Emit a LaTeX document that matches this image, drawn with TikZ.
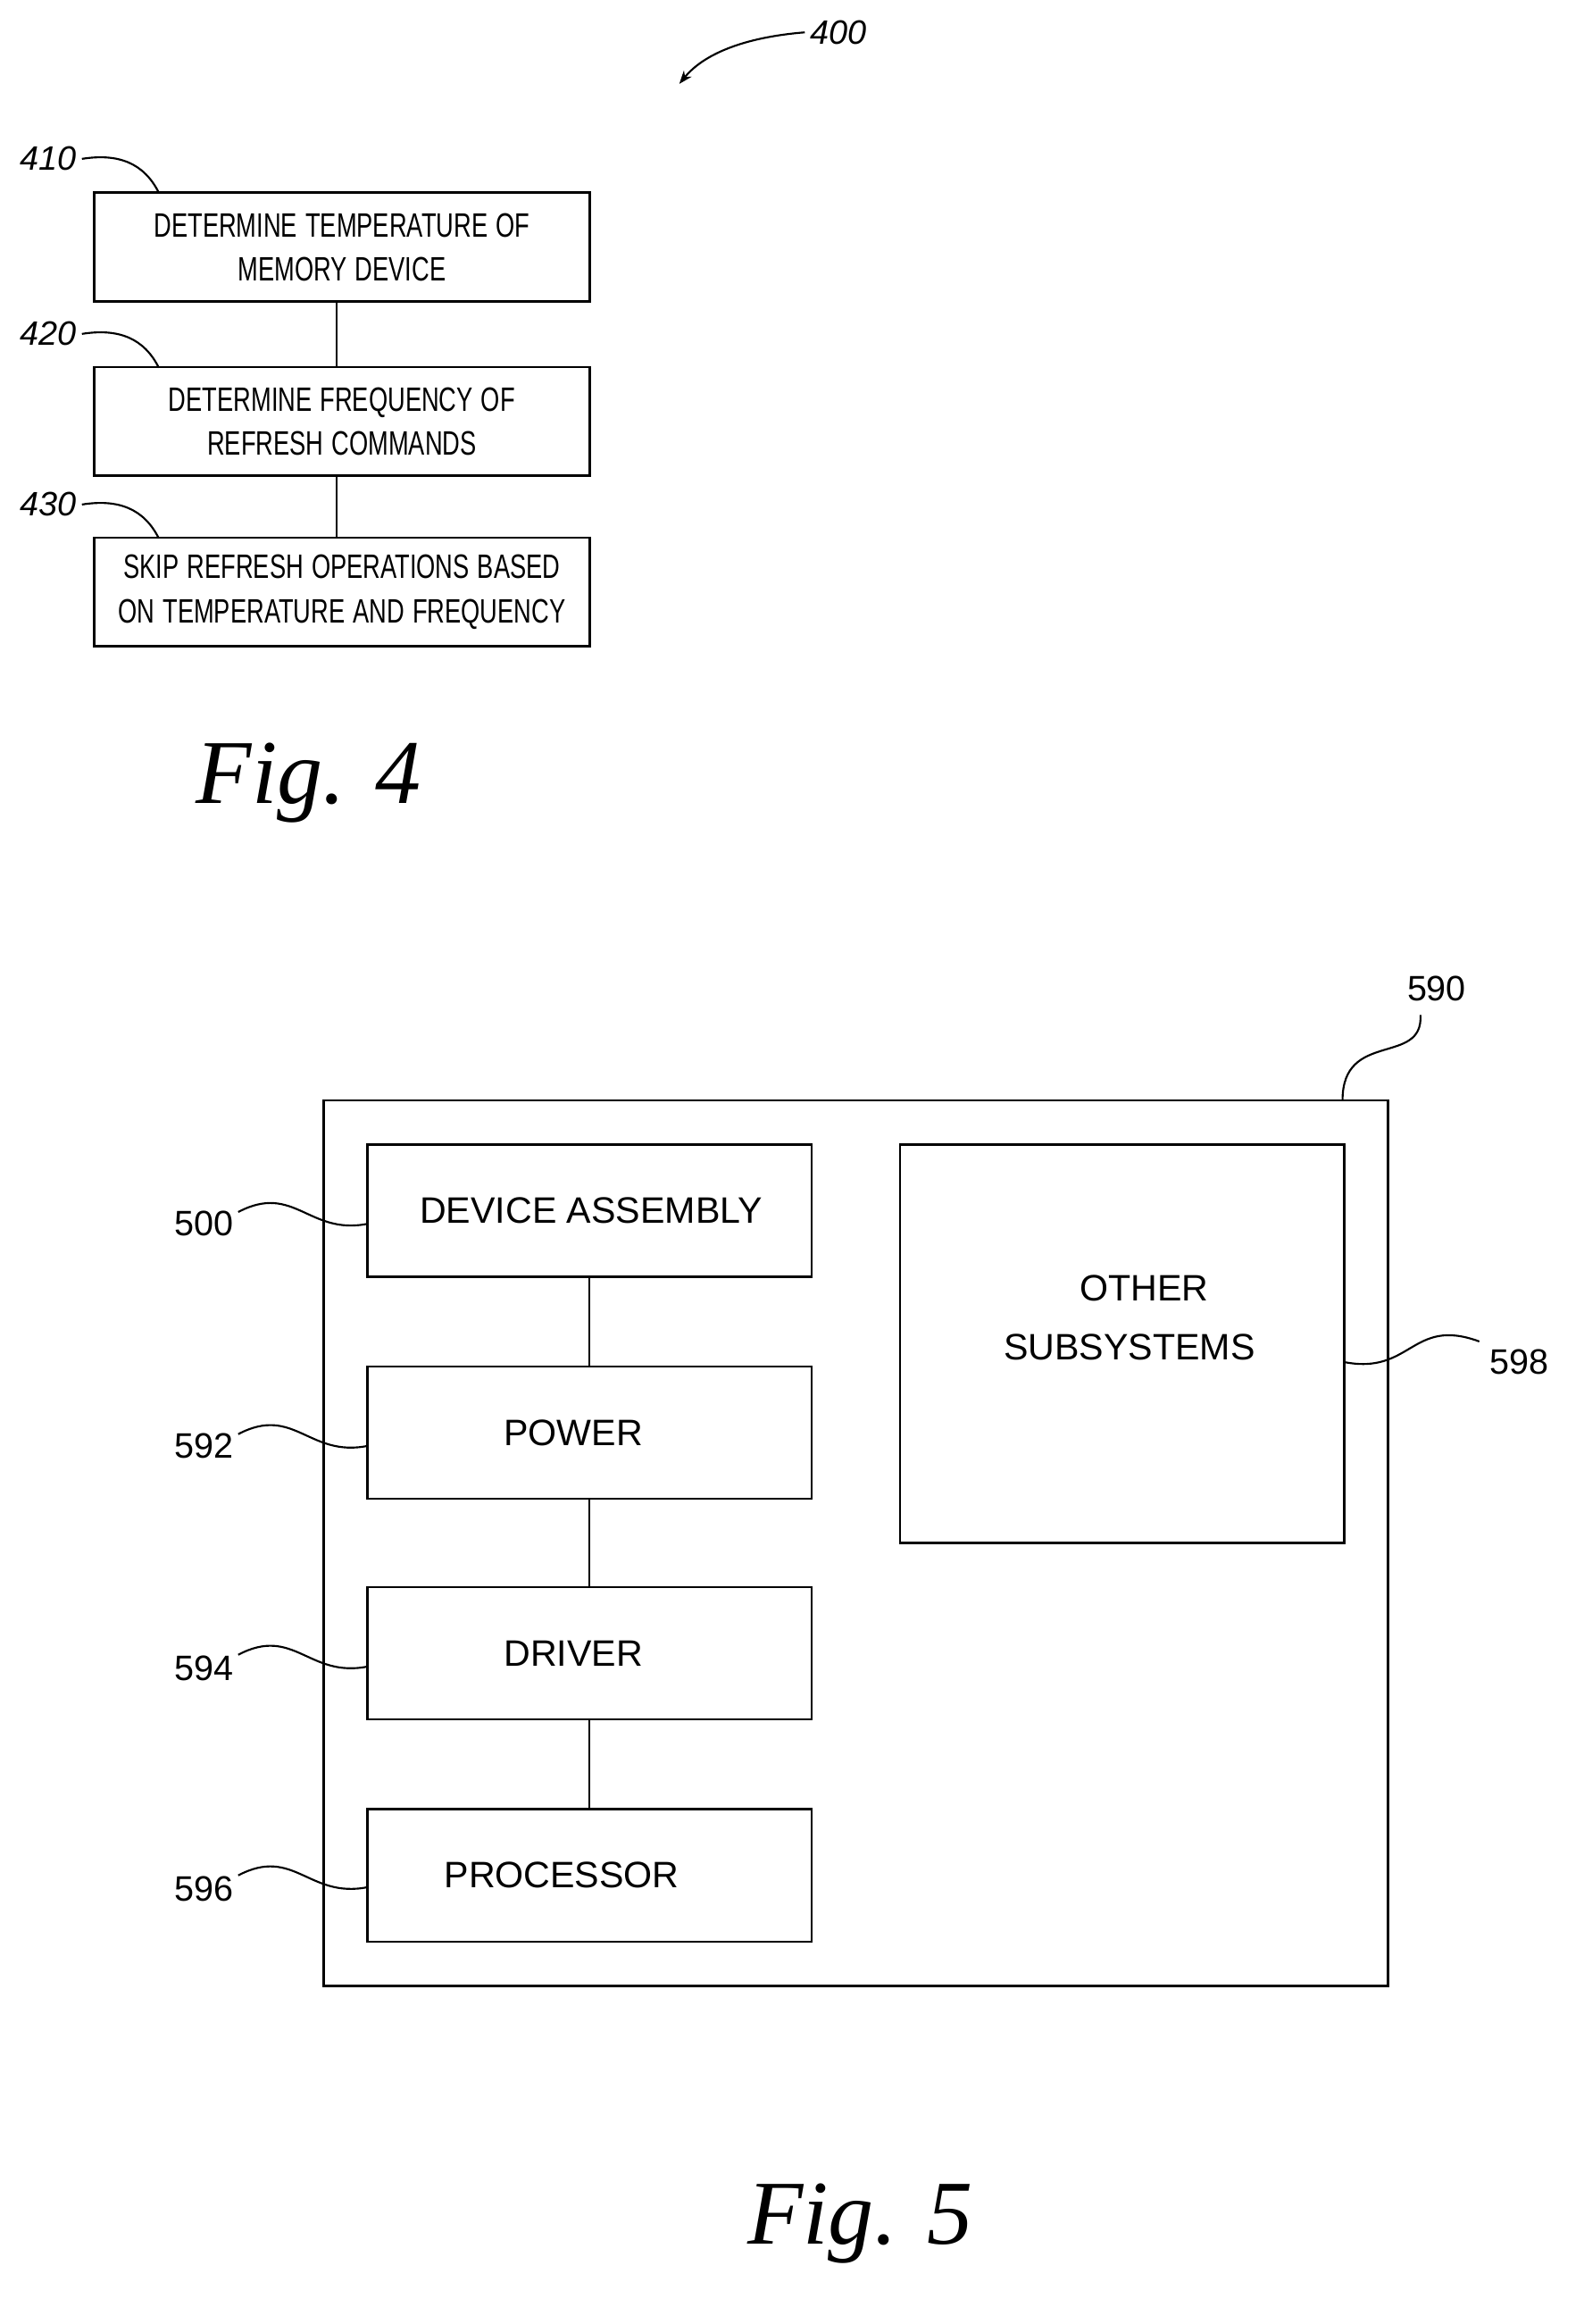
\documentclass[tikz,border=0pt]{standalone}
\usepackage{fontspec}
\setmainfont{Liberation Sans}
\newfontfamily\figfont{Liberation Serif}
\usetikzlibrary{arrows.meta}
\begin{document}
\begin{tikzpicture}[x=1pt,y=-1pt,
  box/.style={draw,line width=1.6pt,inner sep=0pt},
  cbox/.style={box,minimum width=337pt,minimum height=74pt,align=center,font=\fontsize{23}{30}\selectfont,text width=334pt},
  sbox/.style={box,minimum width=302pt,minimum height=90pt,font=\fontsize{25}{30}\selectfont},
  lab/.style={font=\itshape\fontsize{23}{26}\selectfont},
  slab/.style={font=\fontsize{24}{26}\selectfont},
  ln/.style={line width=1.3pt},
  fig/.style={font=\figfont\itshape\fontsize{62}{64}\selectfont}]
\useasboundingbox (0,0) rectangle (1077,1580);
% Fig 4
\node[lab] (l400) at (570,22) {400};
\draw[ln,-{Stealth[length=9pt]}] (l400.west) .. controls (510,25) and (480,35) .. (462,57);
\node[cbox] (b410) at (232.5,168) {\scalebox{0.72}[1]{DETERMINE TEMPERATURE OF}\\\scalebox{0.72}[1]{MEMORY DEVICE}};
\node[cbox] (b420) at (232.5,286.5) {\scalebox{0.72}[1]{DETERMINE FREQUENCY OF}\\\scalebox{0.72}[1]{REFRESH COMMANDS}};
\node[cbox] (b430) at (232.5,402.5) {\scalebox{0.72}[1]{SKIP REFRESH OPERATIONS BASED}\\\scalebox{0.72}[1]{ON TEMPERATURE AND FREQUENCY}};
\draw[ln] (229,205) -- (229,250);
\draw[ln] (229,323) -- (229,366);
\node[lab] (l410) at (33,108) {410};
\node[lab] (l420) at (33,227) {420};
\node[lab] (l430) at (33,343) {430};
\foreach \l/\y in {l410/131,l420/250,l430/366}
  \draw[ln] (\l.east) .. controls +(25,-4) and (98,\y-20) .. (108,\y);
\node[fig] (f4) at (210,532) {Fig. 4};
% Fig 5
\node[box,minimum width=724pt,minimum height=602pt] (o590) at (582,1049) {};
\node[sbox] (b500) at (401,823) {\hspace*{2pt}DEVICE ASSEMBLY};
\node[sbox] (b592) at (401,974) {\hspace*{-22pt}POWER};
\node[sbox] (b594) at (401,1124) {\hspace*{-22pt}DRIVER};
\node[sbox] (b596) at (401,1275) {\hspace*{-38pt}PROCESSOR};
\node[box,minimum width=302pt,minimum height=271pt] (b598) at (763,913.5) {};
\node[font=\fontsize{25}{40}\selectfont,align=center] (t598) at (768,896) {\hspace*{20pt}OTHER\\SUBSYSTEMS};
\draw[ln] (b500) -- (b592); \draw[ln] (b592) -- (b594); \draw[ln] (b594) -- (b596);
\node[slab] (l500) at (139,832) {500};
\node[slab] (l592) at (139,983) {592};
\node[slab] (l594) at (139,1134) {594};
\node[slab] (l596) at (139,1284) {596};
\foreach \l/\y in {l500/832,l592/983,l594/1133,l596/1283}
  \draw[ln] (162,\y-8) .. controls (200,\y-28) and (210,\y+8) .. (250,\y);
\node[slab] (l590) at (977,672) {590};
\draw[ln] (913,748) .. controls (913,700) and (968,725) .. (966,690);
\node[slab] (l598) at (1033,926) {598};
\draw[ln] (914,926) .. controls (960,935) and (960,895) .. (1006,912);
\node[fig] (f5) at (585,1512) {Fig. 5};
\end{tikzpicture}
\end{document}
